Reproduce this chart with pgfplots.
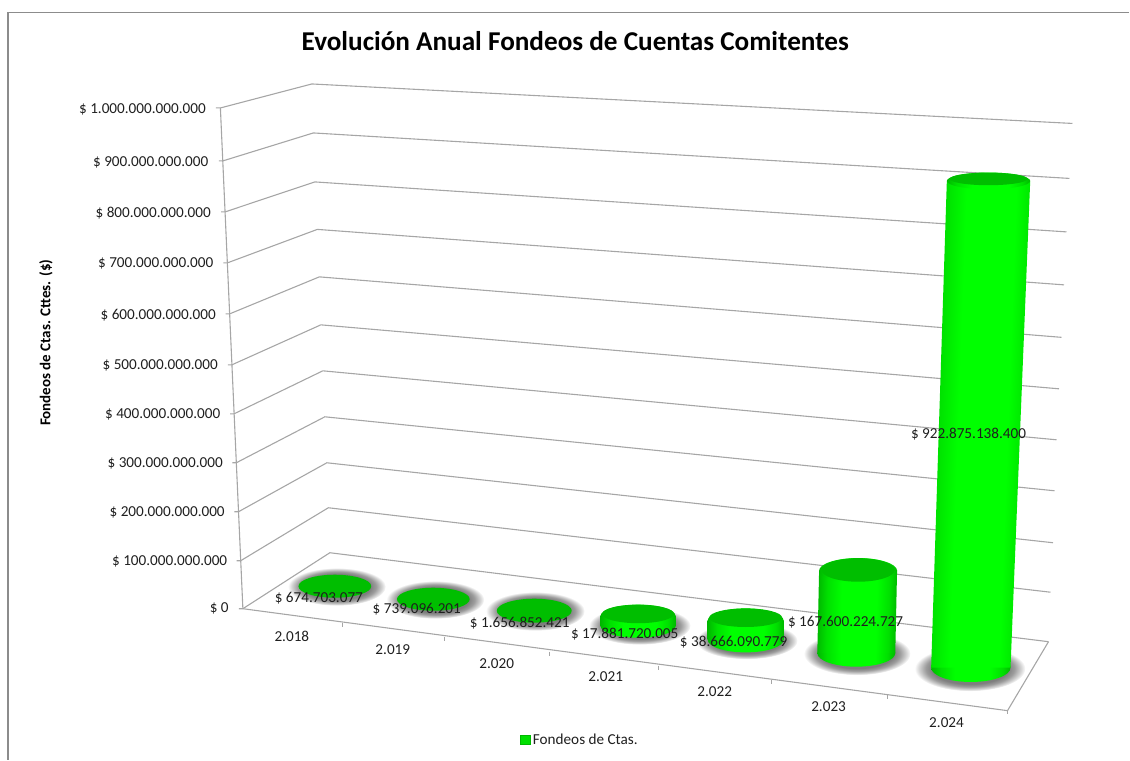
\documentclass[border=0pt]{standalone}
\usepackage{fontspec}
\setmainfont{Carlito}
\usepackage{pgfplots}
\pgfplotsset{compat=1.18}
\usetikzlibrary{plotmarks}
\definecolor{gridc}{HTML}{A6A6A6}
\definecolor{framec}{HTML}{8C8C8C}
\definecolor{capc}{HTML}{00BE00}
\definecolor{gA}{HTML}{00B800}
\definecolor{gB}{HTML}{00E000}
\definecolor{gC}{HTML}{00FF00}
\definecolor{shA}{HTML}{7E7E7E}
\definecolor{shB}{HTML}{9C9C9C}
\definecolor{shC}{HTML}{D4D4D4}
\pgfdeclarehorizontalshading{cylg}{100bp}{color(0bp)=(gA); color(25bp)=(gA); color(31bp)=(gB); color(40bp)=(gC); color(62bp)=(gC); color(70bp)=(gB); color(75bp)=(gA); color(100bp)=(gA)}
\pgfdeclareradialshading{shd}{\pgfpointorigin}{color(0bp)=(shA); color(17bp)=(shA); color(20bp)=(shB); color(23bp)=(shC); color(25bp)=(white); color(50bp)=(white)}
\pgfdeclareplotmark{cylell}{\pgfpathcircle{\pgfpointorigin}{\pgfplotmarksize}\pgfshadepath{cylg}{0}\pgfusepath{discard}}
\pgfdeclareplotmark{shdell}{\pgfpathcircle{\pgfpointorigin}{\pgfplotmarksize}\pgfshadepath{shd}{0}\pgfusepath{discard}}
\pgfdeclareplotmark{capell}{\pgfpathcircle{\pgfpointorigin}{\pgfplotmarksize}\pgfusepathqfill}
% one call = one ellipse at pixel position: x, y, half width, half height
\newcommand\shadowE[4]{\addplot[only marks,mark=shdell,mark size=1pt,mark options={xscale=#3,yscale=#4}] coordinates {(#1,#2)};}
\newcommand\bodyE[4]{\addplot[only marks,mark=cylell,mark size=1pt,mark options={xscale=#3,yscale=#4}] coordinates {(#1,#2)};}
\newcommand\capE[4]{\addplot[only marks,mark=capell,mark size=1pt,mark options={fill=capc,xscale=#3,yscale=#4}] coordinates {(#1,#2)};}
\newcommand\gridl[8]{\addplot[gridc,line width=1.1pt,mark=none] coordinates {(#1,#2)(#3,#4)(#5,#6)(#7,#8)};}
\newcommand\tickl[3]{\addplot[gridc,line width=0.9pt,mark=none] coordinates {(#1,#2)(#1,#3)};}
\newcommand\lab{\fontsize{15.2}{17}\selectfont}
\begin{document}
% Fondeos de Ctas. (values as labelled): 2018 674703077; 2019 739096201; 2020 1656852421;
% 2021 17881720005; 2022 38666090779; 2023 167600224727; 2024 922875138400
\begin{tikzpicture}
\begin{axis}[
  hide axis, scale only axis, width=1130pt, height=760pt,
  xmin=0, xmax=1130, ymin=0, ymax=760, y dir=reverse, clip=false, clip mode=individual,
  every axis plot/.append style={forget plot},
]
% frame
\addplot[framec,line width=1.1pt,mark=none] coordinates {(8,760)(8,12.7)(1130,12.7)};
% walls: tick end, front-left, back-left, back-right
\gridl{216}{108}{220.5}{108}{312}{84}{1073}{123.5}
\gridl{218.9}{161}{222.9}{161}{313.5}{133}{1070}{178.5}
\gridl{221.2}{212}{225.2}{212}{315}{182}{1067}{232}
\gridl{223.5}{263}{227.5}{263}{317.5}{229.5}{1064.5}{285}
\gridl{225.8}{314}{229.8}{314}{319.5}{277}{1062}{337.5}
\gridl{228}{365}{232}{365}{321}{325}{1059.5}{389}
\gridl{230.2}{414}{234.2}{414}{323}{371}{1057}{440}
\gridl{232.4}{463}{236.4}{463}{325}{417}{1055}{491}
\gridl{234.6}{512}{238.6}{512}{327}{463}{1053.5}{543}
\gridl{236.8}{561}{240.8}{561}{328.5}{508}{1051}{592.5}
\gridl{239}{609}{243}{609}{330}{553}{1049}{642}
% left axis line
\addplot[gridc,line width=1.1pt,mark=none] coordinates {(220.5,108)(243,609)};
% floor side and front
\addplot[gridc,line width=1.1pt,mark=none] coordinates {(1049,642)(1008,711)(243,609)};
\tickl{343}{623}{627}\tickl{445}{637}{641}\tickl{550}{652}{656}\tickl{659}{666}{670}\tickl{771.7}{680}{684}\tickl{887.7}{695}{699}\tickl{1008}{710.5}{714.5}
% shadows
\shadowE{337}{587}{49}{19}
\shadowE{435.5}{600}{49}{19}
\shadowE{535.5}{611.5}{49.5}{19.5}
\shadowE{640}{626}{51}{19}
\shadowE{747}{641}{51}{18.5}
\shadowE{857.5}{654}{53.5}{21.5}
\shadowE{970.5}{669}{55.5}{22.5}
% 2018
\capE{335}{586.5}{36.4}{11.5}
% 2019
\capE{433.5}{599.5}{36.4}{11.5}
% 2020
\capE{534.5}{611}{37.5}{12}
% 2021
\bodyE{638.4}{626.5}{37.4}{11.5}
\addplot[draw=none,shade,shading=cylg] coordinates {(601,626.5)(675.8,626.5)(675.8,616)(601,616)} --cycle;
\bodyE{638.4}{616}{37.4}{11}
\capE{638.4}{614.2}{36}{9.3}
% 2022
\bodyE{746}{640}{38}{12.7}
\addplot[draw=none,shade,shading=cylg] coordinates {(708,640)(784,640)(784,621)(708,621)} --cycle;
\bodyE{746}{621}{38}{12.3}
\capE{746}{618}{36.5}{9.3}
% 2023
\bodyE{856.7}{653.5}{39}{13.5}
\addplot[draw=none,shade,shading=cylg,shading angle=-1.25] coordinates {(817.7,653.5)(895.7,653.5)(897.5,571)(819.5,571)} --cycle;
\bodyE{858.5}{571}{39}{12.7}
\capE{858.5}{570.2}{36.7}{11.8}
% 2024
\bodyE{971.3}{668}{39.7}{14.3}
\addplot[draw=none,shade,shading=cylg,shading angle=-2.08] coordinates {(931.6,668)(1011,668)(1030.7,181)(947.3,181)} --cycle;
\bodyE{989}{181}{41.7}{8.4}
\capE{989}{179}{39}{6.3}
% legend key
\addplot[only marks,mark=square*,mark size=4.7pt,mark options={draw=gA,fill=gB,line width=0.5pt}] coordinates {(525.6,740)};
\end{axis}
\begin{axis}[
  hide axis, scale only axis, width=1130pt, height=760pt,
  xmin=0, xmax=1130, ymin=0, ymax=760, y dir=reverse, clip=false,
  nodes={inner sep=0pt,text=black!88,font=\lab},
]
\node[font=\fontsize{27.2}{30}\bfseries\selectfont,text=black] at (axis cs:575.5,41) {Evolución Anual Fondeos de Cuentas Comitentes};
\node[font=\fontsize{15}{17}\bfseries\selectfont,rotate=90,text=black] at (axis cs:46,343) {Fondeos de Ctas. Cttes. (\$)};
\node[font=\lab,anchor=east] at (axis cs:206,109) {\$ 1.000.000.000.000};
\node[font=\lab,anchor=east] at (axis cs:208.5,162) {\$ 900.000.000.000};
\node[font=\lab,anchor=east] at (axis cs:211,213) {\$ 800.000.000.000};
\node[font=\lab,anchor=east] at (axis cs:213.5,264) {\$ 700.000.000.000};
\node[font=\lab,anchor=east] at (axis cs:216,315) {\$ 600.000.000.000};
\node[font=\lab,anchor=east] at (axis cs:218,366) {\$ 500.000.000.000};
\node[font=\lab,anchor=east] at (axis cs:220.5,415) {\$ 400.000.000.000};
\node[font=\lab,anchor=east] at (axis cs:223,464) {\$ 300.000.000.000};
\node[font=\lab,anchor=east] at (axis cs:225,513) {\$ 200.000.000.000};
\node[font=\lab,anchor=east] at (axis cs:227.5,562) {\$ 100.000.000.000};
\node[font=\lab,anchor=east] at (axis cs:229,609) {\$ 0};
\node[font=\lab] at (axis cs:292,637) {2.018};
\node[font=\lab] at (axis cs:393,650) {2.019};
\node[font=\lab] at (axis cs:497,664) {2.020};
\node[font=\lab] at (axis cs:606,677) {2.021};
\node[font=\lab] at (axis cs:715,692) {2.022};
\node[font=\lab] at (axis cs:829,707) {2.023};
\node[font=\lab] at (axis cs:947,723) {2.024};
\node[font=\lab] at (axis cs:319,598) {\$ 674.703.077};
\node[font=\lab] at (axis cs:417,610) {\$ 739.096.201};
\node[font=\lab] at (axis cs:520,623) {\$ 1.656.852.421};
\node[font=\lab] at (axis cs:625,634) {\$ 17.881.720.005};
\node[font=\lab] at (axis cs:734,642) {\$ 38.666.090.779};
\node[font=\lab] at (axis cs:846,623) {\$ 167.600.224.727};
\node[font=\lab] at (axis cs:969,434) {\$ 922.875.138.400};
\node[font=\lab,anchor=west] at (axis cs:533,740) {Fondeos de Ctas.};
\end{axis}
\path (0,0) rectangle (1130pt,760pt);
\end{tikzpicture}
\end{document}
